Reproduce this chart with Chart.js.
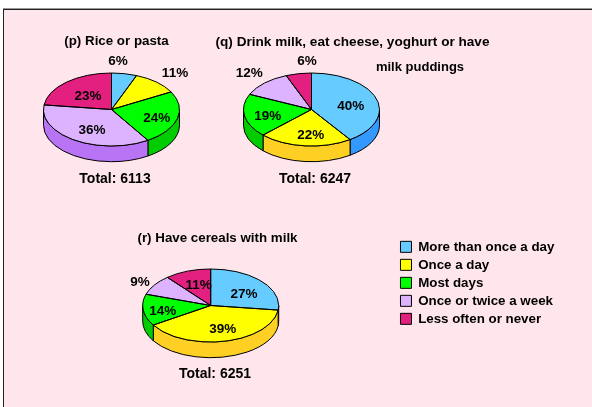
<!DOCTYPE html>
<html><head><meta charset="utf-8">
<script src="https://cdn.jsdelivr.net/npm/chart.js@4/dist/chart.umd.min.js"></script>
<style>
html,body{margin:0;padding:0;background:#fff;}
#wrap{position:relative;width:592px;height:407px;overflow:hidden;}
#panel{position:absolute;left:3px;top:9px;right:0;bottom:0;background:#FFE6EC;border-left:1px solid #222;border-top:1px solid #222;box-shadow:0 -1px 0 #999;}
canvas{position:absolute;left:0;top:0;}
</style></head><body><div id="wrap"><div id="panel"></div>
<canvas id="cp" width="592" height="407"></canvas>
<canvas id="cq" width="592" height="407"></canvas>
<canvas id="cr" width="592" height="407"></canvas>
</div>
<script>
const categories = ['More than once a day','Once a day','Most days','Once or twice a week','Less often or never'];
const topColors  = ['#66CCFF','#FFFF00','#00FF00','#DDB3FF','#E3207F'];
const sideColors = ['#3399FF','#FFD024','#00CC00','#B973F5','#B3185F'];
const riceValues    = [6,11,24,36,23];
const milkValues    = [40,22,19,12,6];
const cerealValues  = [27,39,14,9,11];
const FAMILY = '"Liberation Sans", Arial, sans-serif';
const RX = 68, RY = 36.5, DEPTH = 15.7;

const pie3d = {
  id:'pie3d',
  beforeDatasetsDraw(chart){
    const ctx = chart.ctx, arcs = chart.getDatasetMeta(0).data;
    const cx = arcs[0].x, cy = arcs[0].y, k = RY/arcs[0].outerRadius;
    const rx = arcs[0].outerRadius;
    ctx.save();
    ctx.strokeStyle = '#000'; ctx.lineWidth = 1;
    arcs.forEach((a,i)=>{
      [0, 2*Math.PI].forEach(shift=>{
        const s = Math.max(a.startAngle, shift), e = Math.min(a.endAngle, shift+Math.PI);
        if (e <= s) return;
        ctx.beginPath();
        ctx.ellipse(cx,cy,rx,RY,0,s,e);
        ctx.ellipse(cx,cy+DEPTH,rx,RY,0,e,s,true);
        ctx.closePath();
        ctx.fillStyle = sideColors[i];
        ctx.fill(); ctx.stroke();
      });
    });
    ctx.restore();
    ctx.save();
    ctx.translate(cx,cy); ctx.scale(1,k); ctx.translate(-cx,-cy);
  },
  afterDatasetsDraw(chart){
    const ctx = chart.ctx;
    ctx.restore();
    const arcs = chart.getDatasetMeta(0).data;
    ctx.save();
    ctx.strokeStyle = '#000'; ctx.lineWidth = 1; ctx.lineJoin='round';
    arcs.forEach(a=>{
      ctx.beginPath();
      ctx.moveTo(a.x,a.y);
      ctx.ellipse(a.x,a.y,a.outerRadius,RY,0,a.startAngle,a.endAngle);
      ctx.closePath();
      ctx.stroke();
    });
    ctx.restore();
  },
  afterDraw(chart,args,opts){
    const ctx = chart.ctx;
    ctx.save();
    ctx.fillStyle = '#000';
    ctx.textAlign='center'; ctx.textBaseline='middle';
    (opts.texts||[]).forEach(t=>{
      ctx.font = 'bold '+(t.size||13.5)+'px '+FAMILY;
      ctx.fillText(t.text,t.x,t.y+0.8);
    });
    ctx.restore();
  }
};
const legendPlace = {
  id:'legendPlace',
  afterLayout(chart){
    const l = chart.legend;
    if(!l || !l.options.display) return;
    Object.assign(l,{left:395.8,top:235.5,right:590,bottom:345,width:194.2,height:109.5});
  }
};

function pctTexts(values, pos){ return values.map((v,i)=>({text:v+'%',x:pos[i][0],y:pos[i][1]})); }

function makePie(id, values, cx, cy, headings, labelPos, showLegend){
  return new Chart(document.getElementById(id),{
    type:'pie',
    data:{labels:categories,datasets:[{data:values,backgroundColor:topColors,borderWidth:0}]},
    plugins:[pie3d,legendPlace],
    options:{
      responsive:false,animation:false,
      layout:{padding:{left:cx-RX,right:592-cx-RX,top:cy-RX,bottom:407-cy-RX}},
      plugins:{
        tooltip:{enabled:false},
        title:{display:false},
        legend:{
          display:showLegend,position:'chartArea',align:'start',
          labels:{
            boxWidth:11,boxHeight:11,padding:4.67,color:'#000',
            font:{family:FAMILY,size:13.33,weight:'bold'},
            generateLabels:(ch)=>categories.map((c,i)=>({text:c,fillStyle:topColors[i],strokeStyle:'#000',lineWidth:1,index:i,hidden:false}))
          }
        },
        pie3d:{texts:headings.concat(pctTexts(values,labelPos))}
      }
    }
  });
}

makePie('cp',riceValues,111.5,109.5,
  [{text:'(p) Rice or pasta',x:116.5,y:41,size:13.33},{text:'Total: 6113',x:115,y:178,size:14}],
  [[118,60],[175,72.7],[156.7,117],[92,129],[88,95]],false);
makePie('cq',milkValues,311.5,109.5,
  [{text:'(q) Drink milk, eat cheese, yoghurt or have',x:352.5,y:41,size:13.58},{text:'milk puddings',x:420,y:66.5,size:13},{text:'Total: 6247',x:315,y:178,size:14}],
  [[350.7,105.7],[310.7,134.7],[267.7,115.7],[249.3,72.3],[307,60.7]],false);
makePie('cr',cerealValues,210.7,305.5,
  [{text:'(r) Have cereals with milk',x:217.5,y:237.5,size:13.33},{text:'Total: 6251',x:215,y:373,size:14}],
  [[244,293.3],[222.7,328.3],[162.7,310],[140,281.7],[198.7,284.3]],true);
</script></body></html>
